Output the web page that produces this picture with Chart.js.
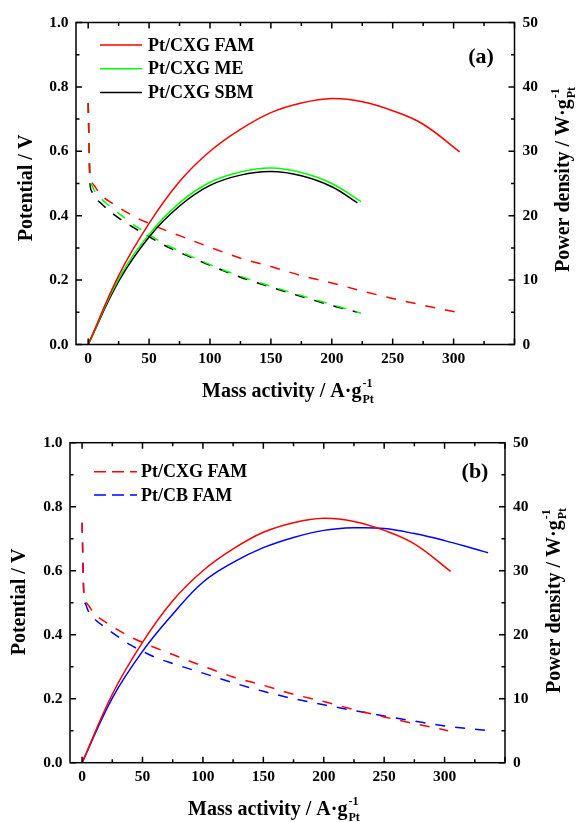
<!DOCTYPE html>
<html>
<head>
<meta charset="utf-8">
<script src="https://cdn.jsdelivr.net/npm/chart.js@4.4.0/dist/chart.umd.min.js"></script>
<style>
    body { margin: 0; background: #fff; }
    canvas { display: block; }
</style>
</head>
<body>
<canvas id="chartA" width="576" height="410"></canvas>
<canvas id="chartB" width="576" height="412"></canvas>
<script>
const FONT = '"Liberation Serif", "Times New Roman", serif';

// tick labels
const xTicks = [0, 50, 100, 150, 200, 250, 300];
const potTicks = [0, 0.2, 0.4, 0.6, 0.8, 1.0];
const powTicks = [0, 10, 20, 30, 40, 50];

// polarization curves (mass activity A/g, potential V)
const iPolFAM = [0, 0.4, 0.8, 1.5, 3, 6, 10, 20, 30, 40, 50, 60, 75, 100, 125, 150, 175, 200, 225, 250, 275, 303];
const vFAM    = [0.75, 0.68, 0.60, 0.53, 0.505, 0.488, 0.466, 0.438, 0.414, 0.393, 0.376, 0.360, 0.338, 0.302, 0.268, 0.242, 0.214, 0.191, 0.166, 0.143, 0.122, 0.100];
const iPolME  = [0, 0.4, 0.8, 1.5, 3, 6, 10, 20, 30, 40, 50, 60, 75, 100, 125, 150, 175, 200, 224];
const vME     = [0.75, 0.68, 0.60, 0.52, 0.495, 0.472, 0.455, 0.423, 0.393, 0.365, 0.341, 0.318, 0.290, 0.248, 0.212, 0.181, 0.152, 0.124, 0.097];
const iPolSBM = [0, 0.4, 0.8, 1.5, 3, 6, 10, 20, 30, 40, 50, 60, 75, 100, 125, 150, 175, 200, 221];
const vSBM    = [0.75, 0.67, 0.58, 0.50, 0.475, 0.456, 0.440, 0.407, 0.380, 0.357, 0.335, 0.313, 0.286, 0.246, 0.209, 0.178, 0.149, 0.121, 0.100];
const iPolCB  = [0, 0.4, 0.8, 1.5, 3, 6, 10, 20, 30, 40, 50, 60, 75, 100, 125, 150, 175, 200, 225, 250, 275, 300, 336];
const vCB     = [0.75, 0.68, 0.60, 0.52, 0.495, 0.467, 0.450, 0.420, 0.393, 0.368, 0.348, 0.330, 0.310, 0.280, 0.250, 0.223, 0.200, 0.181, 0.163, 0.146, 0.130, 0.115, 0.100];

// power density curves (mass activity A/g, W/g)
const iPowFAM = [0, 25, 50, 75, 100, 125, 150, 175, 200, 225, 250, 275, 305];
const pFAM    = [0, 10.7, 18.8, 25.3, 30.0, 33.4, 36.0, 37.5, 38.2, 37.7, 36.3, 34.2, 29.9];
const iPowME  = [0, 25, 50, 75, 100, 125, 150, 175, 200, 224];
const pME     = [0, 10.2, 17.1, 22.0, 25.2, 26.8, 27.4, 26.7, 25.0, 22.2];
const iPowSBM = [0, 25, 50, 75, 100, 125, 150, 175, 200, 221];
const pSBM    = [0, 9.8, 16.7, 21.5, 24.7, 26.3, 26.85, 26.2, 24.5, 22.0];
const iPowCB  = [0, 25, 50, 75, 100, 125, 150, 175, 200, 225, 250, 275, 300, 325, 336];
const pCB     = [0, 10.1, 17.4, 23.2, 28.2, 31.3, 33.6, 35.2, 36.3, 36.7, 36.6, 35.8, 34.7, 33.4, 32.8];

function pts(xs, ys) {
    return xs.map((x, i) => ({ x: x, y: ys[i] }));
}

function curve(xs, ys, color, axis, dashed) {
    const ds = {
        data: pts(xs, ys),
        borderColor: color,
        borderWidth: 1.5,
        borderDash: dashed ? [10, 10] : [],
        pointRadius: 0,
        fill: false,
        yAxisID: axis
    };
    // steep start of the polarization curves needs monotone, power curves smooth bezier
    if (dashed) ds.cubicInterpolationMode = 'monotone';
    else ds.tension = 0.4;
    return ds;
}

// title with superscript -1 and subscript Pt after the main text
function unitText(ctx, main, x, y) {
    ctx.font = 'bold 20px ' + FONT;
    ctx.textAlign = 'left';
    ctx.textBaseline = 'alphabetic';
    ctx.fillText(main, x, y);
    const w = ctx.measureText(main).width;
    ctx.font = 'bold 12px ' + FONT;
    ctx.fillText('-1', x + w + 1, y - 10);
    ctx.fillText('Pt', x + w + 1, y + 6);
}

const decor = {
    id: 'decor',
    afterDraw(chart, args, o) {
        const ctx = chart.ctx, a = chart.chartArea;
        const sx = chart.scales.x, sy = chart.scales.y, sy2 = chart.scales.y2;
        ctx.save();
        ctx.fillStyle = '#000';
        ctx.strokeStyle = '#000';
        ctx.lineWidth = 1.5;
        ctx.setLineDash([]);
        ctx.strokeRect(a.left, a.top, a.right - a.left, a.bottom - a.top);

        // inward ticks, major + minor
        ctx.beginPath();
        for (let v = 0; v <= 350; v += 25) {
            const px = sx.getPixelForValue(v), len = v % 50 === 0 ? 6 : 3.5;
            ctx.moveTo(px, a.bottom); ctx.lineTo(px, a.bottom - len);
            ctx.moveTo(px, a.top); ctx.lineTo(px, a.top + len);
        }
        for (let k = 0; k <= 10; k++) {
            const len = k % 2 === 0 ? 6 : 3.5;
            const py = sy.getPixelForValue(k / 10);
            ctx.moveTo(a.left, py); ctx.lineTo(a.left + len, py);
            const py2 = sy2.getPixelForValue(k * 5);
            ctx.moveTo(a.right, py2); ctx.lineTo(a.right - len, py2);
        }
        ctx.stroke();

        // axis titles
        unitText(ctx, 'Mass activity / A\u00b7g', o.xTitle[0], o.xTitle[1]);

        ctx.save();
        ctx.translate(o.yTitle[0], o.yTitle[1]);
        ctx.rotate(-Math.PI / 2);
        ctx.font = 'bold 20px ' + FONT;
        ctx.textAlign = 'center';
        ctx.textBaseline = 'alphabetic';
        ctx.fillText('Potential / V', 0, 0);
        ctx.restore();

        ctx.save();
        ctx.translate(o.y2Title[0], o.y2Title[1]);
        ctx.rotate(-Math.PI / 2);
        unitText(ctx, 'Power density / W\u00b7g', 0, 0);
        ctx.restore();

        // panel tag
        ctx.font = 'bold 22px ' + FONT;
        ctx.textAlign = 'center';
        ctx.textBaseline = 'middle';
        ctx.fillText(o.tag[0], o.tag[1], o.tag[2]);

        // legend
        const lg = o.legend;
        lg.items.forEach((it, i) => {
            const y = lg.y0 + i * lg.dy;
            ctx.strokeStyle = it.color;
            ctx.setLineDash(lg.dash);
            ctx.beginPath();
            ctx.moveTo(lg.x0, y); ctx.lineTo(lg.x1, y);
            ctx.stroke();
            ctx.setLineDash([]);
            ctx.font = 'bold 18px ' + FONT;
            ctx.textAlign = 'left';
            ctx.textBaseline = 'middle';
            ctx.fillText(it.label, lg.tx, y + 1);
        });
        ctx.restore();
    }
};

function makeChart(id, datasets, box, deco) {
    const tickFont = { family: FONT, size: 15.5, weight: 'bold' };
    const noGrid = { display: false, drawTicks: false };
    return new Chart(document.getElementById(id), {
        type: 'line',
        data: { datasets: datasets },
        options: {
            responsive: false,
            animation: false,
            devicePixelRatio: 1,
            layout: { padding: { top: box.top, left: 0, right: 0, bottom: 0 } },
            plugins: { legend: { display: false }, tooltip: { enabled: false }, decor: deco },
            scales: {
                x: {
                    type: 'linear', min: -10, max: 350,
                    grid: noGrid, border: { display: false },
                    afterBuildTicks: s => { s.ticks = xTicks.map(v => ({ value: v })); },
                    afterFit: s => { s.height = box.xh; },
                    ticks: { font: tickFont, color: '#000', padding: 5, maxRotation: 0, callback: v => String(v) }
                },
                y: {
                    position: 'left', min: 0, max: 1,
                    grid: noGrid, border: { display: false },
                    afterBuildTicks: s => { s.ticks = potTicks.map(v => ({ value: v })); },
                    afterFit: s => { s.width = box.left; },
                    ticks: { font: tickFont, color: '#000', padding: 7.5, callback: v => v.toFixed(1) }
                },
                y2: {
                    position: 'right', min: 0, max: 50,
                    grid: noGrid, border: { display: false },
                    afterBuildTicks: s => { s.ticks = powTicks.map(v => ({ value: v })); },
                    afterFit: s => { s.width = box.rw; },
                    ticks: { font: tickFont, color: '#000', padding: 8, callback: v => String(v) }
                }
            }
        },
        plugins: [decor]
    });
}

makeChart('chartA', [
    curve(iPowFAM, pFAM, '#ff0000', 'y2', false),
    curve(iPowME, pME, '#00ff00', 'y2', false),
    curve(iPowSBM, pSBM, '#000000', 'y2', false),
    curve(iPolFAM, vFAM, '#ff0000', 'y', true),
    curve(iPolME, vME, '#00ff00', 'y', true),
    curve(iPolSBM, vSBM, '#000000', 'y', true)
], { top: 22.5, xh: 65.5, left: 76, rw: 61.5 }, {
    xTitle: [202, 397],
    yTitle: [32, 188],
    y2Title: [569, 272],
    tag: ['(a)', 481, 57],
    legend: {
        x0: 100, x1: 142, tx: 148, y0: 45, dy: 23.7, dash: [],
        items: [
            { label: 'Pt/CXG FAM', color: '#ff0000' },
            { label: 'Pt/CXG ME', color: '#00ff00' },
            { label: 'Pt/CXG SBM', color: '#000000' }
        ]
    }
});

makeChart('chartB', [
    curve(iPowFAM, pFAM, '#ff0000', 'y2', false),
    curve(iPowCB, pCB, '#0000ff', 'y2', false),
    curve(iPolFAM, vFAM, '#ff0000', 'y', true),
    curve(iPolCB, vCB, '#0000ff', 'y', true)
], { top: 32.7, xh: 59.3, left: 70, rw: 71 }, {
    xTitle: [188, 405],
    yTitle: [25, 192],
    y2Title: [560, 283],
    tag: ['(b)', 475, 62],
    legend: {
        x0: 94, x1: 137, tx: 141, y0: 61.7, dy: 23.3, dash: [12, 6],
        items: [
            { label: 'Pt/CXG FAM', color: '#ff0000' },
            { label: 'Pt/CB FAM', color: '#0000ff' }
        ]
    }
});
</script>
</body>
</html>
